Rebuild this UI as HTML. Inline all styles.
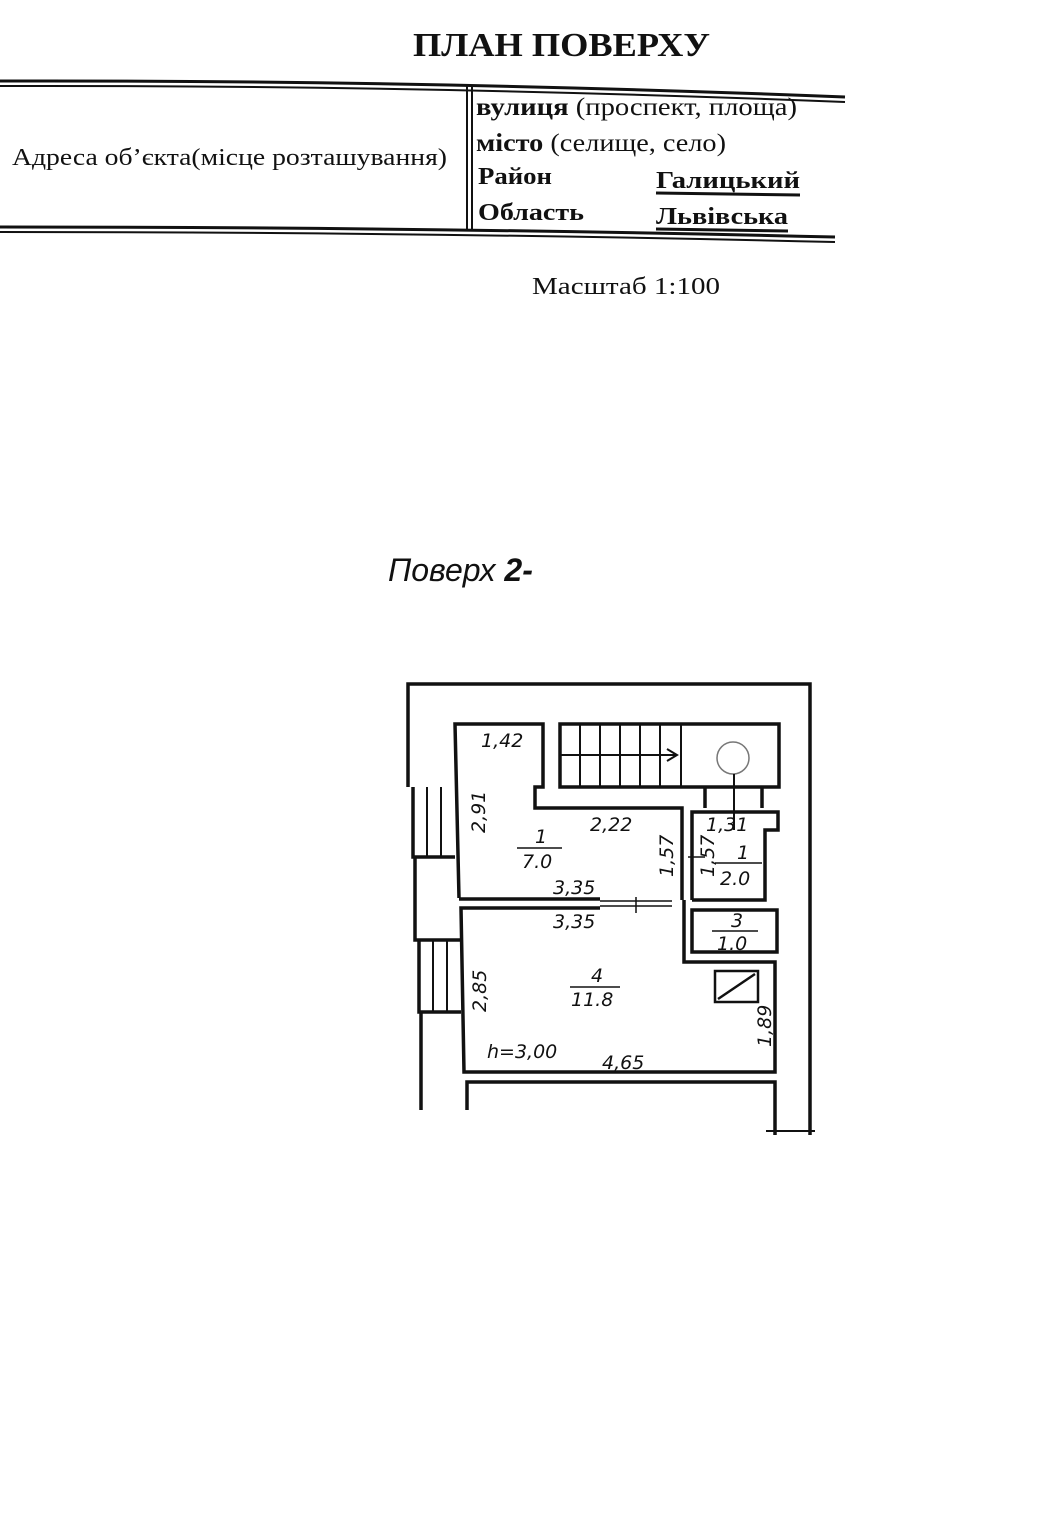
<!DOCTYPE html>
<html><head><meta charset="utf-8"><style>
html,body{margin:0;padding:0;background:#fff;}
svg{display:block}
</style></head><body>
<svg width="1051" height="1522" viewBox="0 0 1051 1522" xmlns="http://www.w3.org/2000/svg">
<rect width="1051" height="1522" fill="#fff"/>
<g font-family="Liberation Serif, serif" fill="#111">
<text x="413" y="56" font-size="34" font-weight="bold" textLength="297" lengthAdjust="spacingAndGlyphs">ПЛАН ПОВЕРХУ</text>
<text x="12" y="165" font-size="24" textLength="435" lengthAdjust="spacingAndGlyphs">Адреса об’єкта(місце розташування)</text>
<text x="476" y="115" font-size="25" textLength="321" lengthAdjust="spacingAndGlyphs"><tspan font-weight="bold">вулиця</tspan> (проспект, площа)</text>
<text x="476" y="151" font-size="25" textLength="250" lengthAdjust="spacingAndGlyphs"><tspan font-weight="bold">місто</tspan> (селище, село)</text>
<text x="478" y="184" font-size="24" font-weight="bold" textLength="74" lengthAdjust="spacingAndGlyphs">Район</text>
<text x="656" y="188" font-size="24" font-weight="bold" textLength="144" lengthAdjust="spacingAndGlyphs">Галицький</text>
<text x="478" y="220" font-size="24" font-weight="bold" textLength="106" lengthAdjust="spacingAndGlyphs">Область</text>
<text x="656" y="224" font-size="24" font-weight="bold" textLength="132" lengthAdjust="spacingAndGlyphs">Львівська</text>
<text x="532" y="294" font-size="24" textLength="188" lengthAdjust="spacingAndGlyphs">Масштаб  1:100</text>
</g>
<g stroke="#111" fill="none">
<path d="M0 81 Q 420 80 845 97" stroke-width="3"/>
<path d="M0 86 Q 420 85 845 102" stroke-width="2"/>
<path d="M0 227 Q 420 227 835 237" stroke-width="3"/>
<path d="M0 232 Q 420 232 835 242" stroke-width="2"/>
<line x1="467" y1="85" x2="467" y2="229" stroke-width="2"/>
<line x1="472" y1="85" x2="472" y2="229" stroke-width="2"/>
<line x1="656" y1="193" x2="800" y2="195" stroke-width="3"/>
<line x1="656" y1="229" x2="788" y2="231" stroke-width="3"/>
</g>
<text x="388" y="581" font-family="Liberation Sans, sans-serif" font-style="italic" font-size="32" fill="#111">Поверх <tspan font-weight="bold">2-</tspan></text>
<g stroke="#111" fill="none" stroke-width="3.5">
<polyline points="408,787 408,684 810,684 810,1135"/>
<polyline points="413,787 413,857 455,857"/>
<line x1="427" y1="787" x2="427" y2="857" stroke-width="2"/>
<line x1="441" y1="787" x2="441" y2="857" stroke-width="2"/>
<polyline points="415,857 415,940 460,940"/>
<polyline points="419,940 419,1012 461,1012"/>
<line x1="433" y1="940" x2="433" y2="1012" stroke-width="2"/>
<line x1="447" y1="940" x2="447" y2="1012" stroke-width="2"/>
<line x1="421" y1="1012" x2="421" y2="1110"/>
<polyline points="459,898 455,724 543,724 543,787 535,787 535,808 682,808 682,900"/>
<line x1="459" y1="899" x2="600" y2="899"/>
<line x1="600" y1="901" x2="672" y2="901" stroke-width="1.5"/>
<line x1="600" y1="906" x2="672" y2="906" stroke-width="1.5"/>
<line x1="636" y1="897" x2="636" y2="913" stroke-width="1.5"/>
<polyline points="600,908 461,908 464,1072 775,1072 775,962 684,962 684,900"/>
<polyline points="467,1110 467,1082 775,1082 775,1135"/>
<line x1="766" y1="1131" x2="815" y2="1131" stroke-width="2"/>
<rect x="560" y="724" width="219" height="63"/>
<g stroke-width="2">
<line x1="580" y1="724" x2="580" y2="787"/><line x1="600" y1="724" x2="600" y2="787"/>
<line x1="620" y1="724" x2="620" y2="787"/><line x1="640" y1="724" x2="640" y2="787"/>
<line x1="660" y1="724" x2="660" y2="787"/><line x1="681" y1="724" x2="681" y2="787"/>
<line x1="560" y1="755" x2="676" y2="755"/><polyline points="667,749 677,755 667,761"/>
<circle cx="733" cy="758" r="16" stroke="#777" stroke-width="1.5" fill="#fff"/>
<line x1="734" y1="774" x2="734" y2="830"/>
</g>
<polyline points="705,787 705,808"/><polyline points="762,787 762,808"/>
<polyline points="692,900 692,812 778,812 778,830 765,830 765,900 692,900"/>
<rect x="692" y="910" width="85" height="42"/>
<rect x="715" y="971" width="43" height="31" stroke-width="2.5"/>
<line x1="718" y1="999" x2="755" y2="974" stroke-width="2.5"/>
<line x1="688" y1="857" x2="705" y2="857" stroke-width="1.5"/>
</g>
<g font-family="DejaVu Sans, sans-serif" font-style="italic" font-size="19" fill="#111">
<text x="481" y="747">1,42</text>
<text x="590" y="831">2,22</text>
<text x="706" y="831">1,31</text>
<text x="535" y="843">1</text><line x1="517" y1="848" x2="562" y2="848" stroke="#111" stroke-width="1.5"/><text x="522" y="868">7.0</text>
<text x="553" y="894">3,35</text>
<text x="553" y="928">3,35</text>
<text x="737" y="859">1</text><line x1="715" y1="863" x2="762" y2="863" stroke="#111" stroke-width="1.5"/><text x="720" y="885">2.0</text>
<text x="731" y="927">3</text><line x1="712" y1="931" x2="758" y2="931" stroke="#111" stroke-width="1.5"/><text x="717" y="950">1.0</text>
<text x="591" y="982">4</text><line x1="570" y1="987" x2="620" y2="987" stroke="#111" stroke-width="1.5"/><text x="571" y="1006">11.8</text>
<text x="487" y="1058">h=3,00</text>
<text x="602" y="1069">4,65</text>
<text transform="translate(485,833) rotate(-90)">2,91</text>
<text transform="translate(486,1012) rotate(-90)">2,85</text>
<text transform="translate(673,877) rotate(-90)">1,57</text>
<text transform="translate(714,877) rotate(-90)">1,57</text>
<text transform="translate(771,1047) rotate(-90)">1,89</text>
</g>
</svg>
</body></html>
